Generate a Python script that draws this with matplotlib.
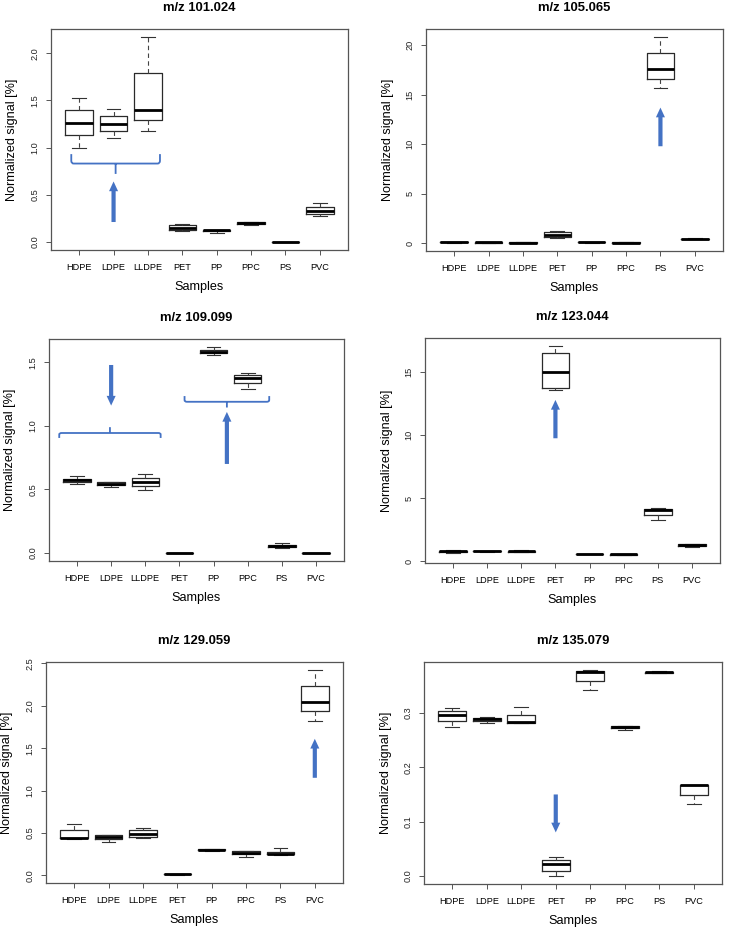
import matplotlib
matplotlib.use("Agg")
import matplotlib.pyplot as plt
from matplotlib.path import Path
from matplotlib.patches import PathPatch

plt.rcParams['font.family'] = ['Liberation Sans', 'DejaVu Sans']

samples = ["HDPE", "LDPE", "LLDPE", "PET", "PP", "PPC", "PS", "PVC"]
titles = ["m/z 101.024", "m/z 105.065", "m/z 109.099", "m/z 123.044", "m/z 129.059", "m/z 135.079"]

# Box statistics per panel: lower whisker, Q1, median, Q3, upper whisker
mz101_low = [1.00, 1.106, 1.18, 0.11, 0.09, 0.175, 0.0, 0.27]
mz101_q1 = [1.13, 1.18, 1.29, 0.13, 0.11, 0.19, 0.0, 0.30]
mz101_med = [1.26, 1.25, 1.40, 0.15, 0.12, 0.20, 0.0, 0.326]
mz101_q3 = [1.40, 1.33, 1.79, 0.18, 0.125, 0.21, 0.0, 0.37]
mz101_high = [1.53, 1.41, 2.17, 0.19, 0.13, 0.215, 0.0, 0.415]

mz105_low = [0.08, 0.07, 0.06, 0.55, 0.08, 0.06, 15.7, 0.40]
mz105_q1 = [0.09, 0.08, 0.07, 0.60, 0.09, 0.07, 16.6, 0.42]
mz105_med = [0.10, 0.09, 0.08, 0.85, 0.10, 0.08, 17.6, 0.45]
mz105_q3 = [0.12, 0.10, 0.09, 1.10, 0.11, 0.09, 19.2, 0.47]
mz105_high = [0.13, 0.11, 0.10, 1.20, 0.12, 0.10, 20.8, 0.50]

mz109_low = [0.545, 0.52, 0.495, 0.0, 1.56, 1.29, 0.04, 0.0]
mz109_q1 = [0.555, 0.535, 0.53, 0.0, 1.575, 1.336, 0.045, 0.0]
mz109_med = [0.57, 0.545, 0.555, 0.0, 1.585, 1.38, 0.053, 0.0]
mz109_q3 = [0.58, 0.555, 0.59, 0.0, 1.60, 1.40, 0.06, 0.0]
mz109_high = [0.605, 0.56, 0.62, 0.0, 1.62, 1.415, 0.075, 0.0]

mz123_low = [0.70, 0.78, 0.75, 13.58, 0.57, 0.53, 3.30, 1.15]
mz123_q1 = [0.78, 0.80, 0.78, 13.76, 0.58, 0.54, 3.68, 1.20]
mz123_med = [0.82, 0.82, 0.80, 15.00, 0.59, 0.55, 4.10, 1.30]
mz123_q3 = [0.86, 0.84, 0.85, 16.50, 0.60, 0.56, 4.15, 1.35]
mz123_high = [0.88, 0.85, 0.92, 17.05, 0.61, 0.57, 4.20, 1.38]

mz129_low = [0.426, 0.387, 0.434, 0.005, 0.29, 0.22, 0.24, 1.82]
mz129_q1 = [0.437, 0.426, 0.457, 0.010, 0.295, 0.25, 0.245, 1.94]
mz129_med = [0.445, 0.457, 0.484, 0.012, 0.30, 0.265, 0.25, 2.05]
mz129_q3 = [0.53, 0.473, 0.53, 0.015, 0.305, 0.285, 0.28, 2.23]
mz129_high = [0.605, 0.477, 0.56, 0.018, 0.31, 0.29, 0.316, 2.42]

mz135_low = [0.274, 0.2815, 0.2815, 0.0, 0.343, 0.269, 0.374, 0.132]
mz135_q1 = [0.285, 0.2858, 0.2815, 0.0086, 0.359, 0.2725, 0.3745, 0.149]
mz135_med = [0.297, 0.289, 0.283, 0.0215, 0.3755, 0.2745, 0.375, 0.1666]
mz135_q3 = [0.3036, 0.2907, 0.297, 0.0295, 0.3774, 0.2755, 0.3755, 0.167]
mz135_high = [0.31, 0.2926, 0.311, 0.034, 0.3792, 0.276, 0.3774, 0.167]

yticks = [
    [0.0, 0.5, 1.0, 1.5, 2.0],
    [0, 5, 10, 15, 20],
    [0.0, 0.5, 1.0, 1.5],
    [0, 5, 10, 15],
    [0.0, 0.5, 1.0, 1.5, 2.0, 2.5],
    [0.0, 0.1, 0.2, 0.3],
]
ytick_labels = [
    ["0.0", "0.5", "1.0", "1.5", "2.0"],
    ["0", "5", "10", "15", "20"],
    ["0.0", "0.5", "1.0", "1.5"],
    ["0", "5", "10", "15"],
    ["0.0", "0.5", "1.0", "1.5", "2.0", "2.5"],
    ["0.0", "0.1", "0.2", "0.3"],
]

stats_sets = [
    (mz101_low, mz101_q1, mz101_med, mz101_q3, mz101_high),
    (mz105_low, mz105_q1, mz105_med, mz105_q3, mz105_high),
    (mz109_low, mz109_q1, mz109_med, mz109_q3, mz109_high),
    (mz123_low, mz123_q1, mz123_med, mz123_q3, mz123_high),
    (mz129_low, mz129_q1, mz129_med, mz129_q3, mz129_high),
    (mz135_low, mz135_q1, mz135_med, mz135_q3, mz135_high),
]

# Annotations: arrows (panel, x, y_start, y_end) and braces (panel, x0, x1, y_line, y_end, y_tip)
arrows = [
    (0, 2.0, 0.21, 0.64),
    (1, 7.0, 9.8, 13.7),
    (2, 2.0, 1.48, 1.16),
    (2, 5.39, 0.70, 1.11),
    (3, 4.0, 9.76, 12.8),
    (4, 8.0, 1.15, 1.61),
    (5, 4.0, 0.150, 0.080),
]
braces = [
    (0, 0.77, 3.35, 0.83, 0.93, 0.72),
    (2, 0.48, 3.45, 0.944, 0.905, 0.99),
    (2, 4.15, 6.63, 1.19, 1.235, 1.145),
]

W, H = 729, 930
boxes_px = [
    (51, 29, 348, 250),
    (426, 29, 723, 251),
    (49, 339, 344, 561),
    (425, 338, 720, 563),
    (46, 662, 343, 883),
    (424, 662, 722, 884),
]

fig = plt.figure(figsize=(W / 100, H / 100), dpi=100)
BLUE = "#4472C4"
SPINE = "#555555"

axes = []
for i, (x0, y0, x1, y1) in enumerate(boxes_px):
    ax = fig.add_axes([x0 / W, 1 - y1 / H, (x1 - x0) / W, (y1 - y0) / H])
    axes.append(ax)
    lo, q1, med, q3, hi = stats_sets[i]
    stats = [dict(whislo=lo[k], q1=q1[k], med=med[k], q3=q3[k], whishi=hi[k], fliers=[])
             for k in range(len(samples))]
    ax.bxp(stats, positions=range(1, len(samples) + 1), widths=0.8, capwidths=0.4,
           showfliers=False,
           boxprops=dict(color="#2a2a2a", linewidth=0.9),
           medianprops=dict(color="black", linewidth=2.0, solid_capstyle="butt"),
           whiskerprops=dict(color="#444444", linewidth=0.8, linestyle=(0, (4, 3))),
           capprops=dict(color="#333333", linewidth=0.8))
    ymin = min(lo); ymax = max(hi)
    ext = 0.04 * (ymax - ymin)
    ax.set_ylim(ymin - ext, ymax + ext)
    ax.set_xlim(0.18, 8.82)
    ax.set_xticks(range(1, len(samples) + 1))
    ax.set_xticklabels(samples, fontsize=6.6)
    ax.set_yticks(yticks[i])
    ax.set_yticklabels(ytick_labels[i], fontsize=6.6, color="#222222")
    for lab in ax.get_yticklabels():
        lab.set_rotation(90)
        lab.set_va("center")
    ax.tick_params(axis="both", length=3.6, width=0.7, color=SPINE, direction="out")
    ax.tick_params(axis="y", pad=4.5)
    ax.tick_params(axis="x", pad=5.5)
    for s in ax.spines.values():
        s.set_color(SPINE)
        s.set_linewidth(0.9)
    cx = (x0 + x1) / 2
    cy = (y0 + y1) / 2
    fig.text(cx / W, 1 - (y0 - 21) / H, titles[i], ha="center", va="center",
             fontsize=9.4, fontweight="bold")
    fig.text(cx / W, 1 - (y1 + 37) / H, "Samples", ha="center", va="center", fontsize=9.1)
    fig.text((x0 - 38.5) / W, 1 - cy / H, "Normalized signal [%]", ha="center", va="center",
             rotation=90, fontsize=9.1)

for (p, x, ys, ye) in arrows:
    axes[p].annotate("", xy=(x, ye), xytext=(x, ys),
                     arrowprops=dict(arrowstyle="simple,head_width=0.65,head_length=0.7,tail_width=0.3",
                                     mutation_scale=10, color=BLUE, lw=0, shrinkA=0, shrinkB=0))

for (p, bx0, bx1, yl, ye, yt) in braces:
    ax = axes[p]
    xc = (bx0 + bx1) / 2
    dx = 0.07
    dy = 0.3 * (ye - yl)
    verts = [
        (bx0, ye), (bx0, yl + dy), (bx0, yl), (bx0 + dx, yl),
        (bx1 - dx, yl), (bx1, yl), (bx1, yl + dy), (bx1, ye),
        (xc, yl), (xc, yt),
    ]
    codes = [Path.MOVETO, Path.LINETO, Path.CURVE3, Path.CURVE3,
             Path.LINETO, Path.CURVE3, Path.CURVE3, Path.LINETO,
             Path.MOVETO, Path.LINETO]
    ax.add_patch(PathPatch(Path(verts, codes), facecolor="none", edgecolor=BLUE, lw=1.3))

fig.savefig("out.png", dpi=100)
